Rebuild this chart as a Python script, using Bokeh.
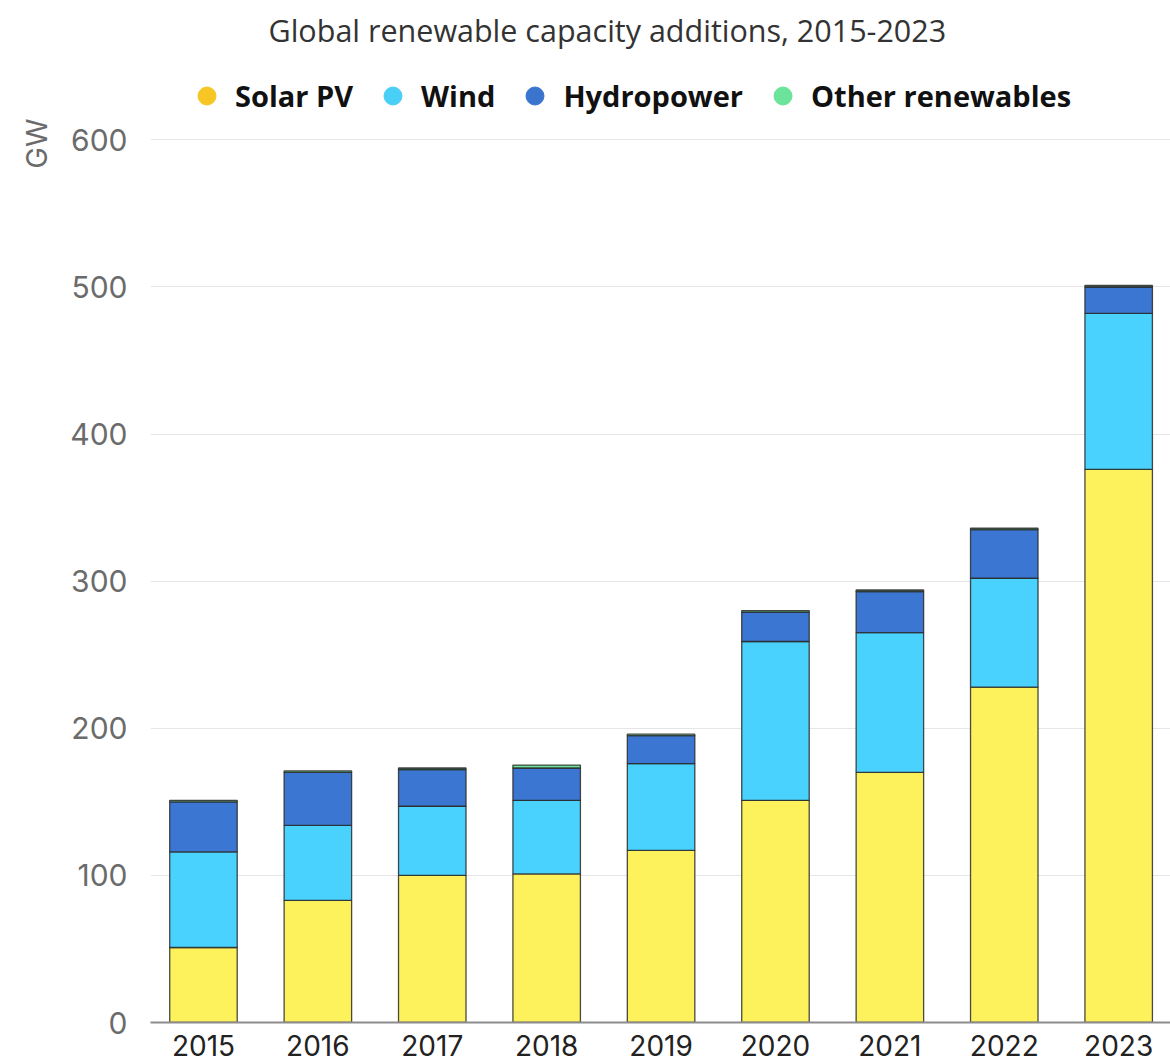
from bokeh.plotting import figure
from bokeh.models import (Range1d, FixedTicker, Legend, LegendItem, Title,
                          ColumnDataSource)
from bokeh.embed import file_html
from bokeh.resources import INLINE

# ---- data (GW) ----
years = [2015, 2016, 2017, 2018, 2019, 2020, 2021, 2022, 2023]
solar = [51, 83, 100, 101, 117, 151, 170, 228, 376]
wind = [65, 51, 47, 50, 59, 108, 95, 74, 106]
hydro = [34, 36, 25, 22, 19, 20, 28, 33, 18]
other = [1, 1, 1, 2, 1, 1, 1, 1, 1]
series = ["Solar PV", "Wind", "Hydropower", "Other renewables"]
y_ticks = [0, 100, 200, 300, 400, 500, 600]

bar_colors = ["#FDF25C", "#48D2FD", "#3B77D2", "#6BE39A"]
legend_colors = ["#F5C624", "#4ACFF6", "#3A74CF", "#6BE39A"]

src = ColumnDataSource(dict(year=years, solar=solar, wind=wind, hydro=hydro, other=other))

p = figure(width=1170, height=1064, output_backend="svg", toolbar_location=None,
           x_range=Range1d(2014.537, 2023.453), y_range=Range1d(0, 656.0),
           min_border_left=150, min_border_right=0, min_border_top=50,
           min_border_bottom=42)
p.background_fill_color = "white"
p.border_fill_color = "white"
p.outline_line_color = None

p.vbar_stack(["solar", "wind", "hydro", "other"], x="year", width=0.59,
             fill_color=bar_colors, line_color="#2a2a2a", line_width=1.3,
             line_alpha=0.85, source=src)

# legend dots
nan = float("nan")
items = []
for name, col in zip(series, legend_colors):
    r = p.scatter(x=[nan], y=[nan], marker="circle", size=18, fill_color=col,
                  line_color=col)
    items.append(LegendItem(label=name, renderers=[r]))

legend = Legend(items=items, orientation="horizontal", location=(34, 904),
                border_line_color=None, background_fill_alpha=0,
                label_text_font="Open Sans", label_text_font_style="bold",
                label_text_font_size="29px", label_text_color="#111111",
                glyph_width=45, glyph_height=45, label_standoff=6, spacing=17,
                padding=0, margin=0)
p.add_layout(legend, "center")

# axes
p.xaxis.ticker = FixedTicker(ticks=years)
p.xaxis.axis_line_color = "#8c8c8c"
p.xaxis.axis_line_width = 2
p.xaxis.major_tick_line_color = None
p.xaxis.minor_tick_line_color = None
p.xaxis.major_label_standoff = 6
p.xaxis.major_label_text_font = "Inter"
p.xaxis.major_label_text_font_size = "28px"
p.xaxis.major_label_text_line_height = 0.9
p.xaxis.major_label_text_color = "#222222"

p.yaxis.ticker = FixedTicker(ticks=y_ticks)
p.yaxis.axis_line_color = None
p.yaxis.major_tick_line_color = None
p.yaxis.minor_tick_line_color = None
p.yaxis.major_label_standoff = 17
p.yaxis.major_label_text_font = "Inter"
p.yaxis.major_label_text_font_size = "30px"
p.yaxis.major_label_text_color = "#6b6b6b"

p.xgrid.grid_line_color = None
p.ygrid.ticker = FixedTicker(ticks=y_ticks)
p.ygrid.grid_line_color = "#e6e6e6"
p.ygrid.grid_line_width = 1

gw = Title(text="GW", align="right", offset=61, text_font="Inter",
           text_font_size="29px", text_font_style="normal", text_color="#6b6b6b",
           standoff=27)
p.add_layout(gw, "left")

title = Title(text="Global renewable capacity additions, 2015-2023", align="left",
              offset=118, text_font="Open Sans", text_font_size="30.5px",
              text_font_style="normal", text_color="#333333", standoff=13)
p.add_layout(title, "above")

open("out.html", "w").write(file_html(p, INLINE))
